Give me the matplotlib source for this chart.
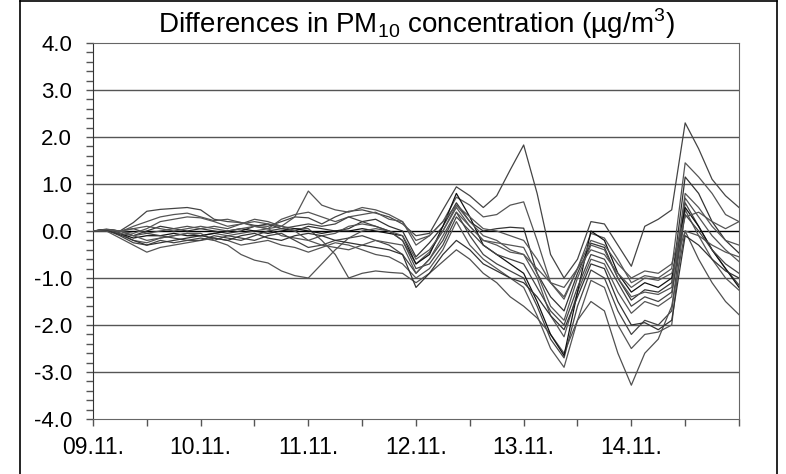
import matplotlib
matplotlib.use("Agg")
import matplotlib.pyplot as plt
from matplotlib.lines import Line2D
from matplotlib.ticker import MultipleLocator, FixedLocator
import numpy as np

plt.rcParams['font.family'] = ['Liberation Sans', 'DejaVu Sans']
plt.rcParams['mathtext.fontset'] = 'custom'
plt.rcParams['mathtext.rm'] = 'Liberation Sans'

# 3-hourly samples starting 09.11. 00:00
hours = np.arange(0, 145, 3)
day_labels = ["09.11.", "10.11.", "11.11.", "12.11.", "13.11.", "14.11."]

run01 = [0, 0.03, 0.0, 0.18, 0.42, 0.46, 0.48, 0.5,
         0.45, 0.25, 0.2, 0.18, 0.12, 0.1, 0.2, 0.3,
         0.28, 0.15, 0.3, 0.42, 0.45, 0.38, 0.3, 0.15,
         -0.1, -0.05, 0.45, 0.94, 0.75, 0.5, 0.75, 1.3,
         1.83, 0.8, -0.5, -1.0, -0.6, 0.2, 0.15, -0.3,
         -0.75, 0.1, 0.25, 0.45, 2.3, 1.75, 1.1, 0.75, 0.5]
run02 = [0, 0.02, -0.02, 0.1, 0.2, 0.3, 0.35, 0.38,
         0.3, 0.22, 0.25, 0.18, 0.1, 0.05, 0.25, 0.35,
         0.4, 0.3, 0.2, 0.3, 0.35, 0.4, 0.25, 0.2,
         -0.3, -0.1, 0.2, 0.72, 0.55, 0.3, 0.35, 0.55,
         0.62, -0.2, -1.1, -1.45, -0.8, -0.05, -0.15, -0.6,
         -1.1, -0.95, -1.0, -0.8, 1.45, 1.15, 0.8, 0.35, 0.2]
run03 = [0, 0.04, 0.0, -0.1, 0.0, 0.1, 0.05, 0.0,
         0.05, 0.0, -0.05, 0.0, 0.1, 0.15, 0.05, 0.0,
         0.1, 0.05, 0.0, 0.05, 0.2, 0.25, 0.1, 0.0,
         -0.55, -0.25, 0.1, 0.6, 0.2, 0.0, 0.05, 0.08,
         0.06, -0.9, -1.4, -1.7, -0.9, -0.26, -0.35, -1.0,
         -1.47, -1.25, -1.3, -1.1, 1.15, 0.8, 0.2, -0.2, -0.47]
run04 = [0, 0.0, -0.05, -0.2, -0.25, -0.15, -0.1, -0.05,
         -0.1, -0.05, -0.1, -0.05, 0.0, 0.05, -0.1, -0.15,
         -0.2, -0.1, -0.05, 0.1, 0.15, 0.1, 0.0, -0.2,
         -0.7, -0.45, 0.0, 0.5, 0.1, -0.2, -0.3, -0.45,
         -0.5, -1.0, -1.8, -2.25, -1.3, -0.6, -0.7, -1.3,
         -1.75, -1.5, -1.6, -1.4, 0.7, 0.3, -0.1, -0.4, -0.65]
run05 = [0, 0.02, -0.1, -0.25, -0.3, -0.2, -0.25, -0.2,
         -0.15, -0.2, -0.1, -0.15, -0.2, -0.1, -0.05, -0.2,
         -0.35, -0.3, -0.2, -0.15, -0.1, -0.2, -0.3, -0.5,
         -0.9, -0.6, -0.2, 0.4, -0.1, -0.5, -0.7, -0.85,
         -1.0, -1.6, -2.3, -2.7, -1.6, -0.83, -1.0, -1.7,
         -2.2, -1.9, -2.0, -1.7, 0.6, 0.1, -0.4, -0.8, -1.15]
run06 = [0, 0.0, -0.15, -0.3, -0.45, -0.35, -0.3, -0.25,
         -0.2, -0.15, -0.2, -0.3, -0.25, -0.2, -0.3, -0.35,
         -0.45, -0.35, -0.25, -0.3, -0.4, -0.5, -0.55, -0.7,
         -1.0, -0.8, -0.4, 0.2, -0.3, -0.6, -0.8, -1.0,
         -1.2, -1.8, -2.5, -2.9, -1.9, -1.05, -1.2, -2.0,
         -2.5, -2.2, -2.15, -2.0, 0.45, -0.1, -0.6, -1.0, -1.26]
run07 = [0, 0.03, 0.0, -0.1, -0.05, 0.0, 0.05, 0.1,
         0.05, 0.1, 0.05, 0.15, 0.25, 0.2, 0.1, 0.05,
         0.05, -0.2, -0.5, -1.0, -0.9, -0.85, -0.88, -0.9,
         -1.1, -0.9, -0.65, -0.4, -0.6, -0.9, -1.1, -1.4,
         -1.6, -1.85, -2.2, -2.6, -1.9, -1.5, -1.7, -2.6,
         -3.28, -2.6, -2.3, -1.6, 0.0, -0.6, -1.1, -1.5, -1.78]
run08 = [0, 0.03, -0.05, -0.15, -0.1, -0.1, -0.05, -0.1,
         -0.1, -0.05, 0.0, 0.05, 0.0, -0.05, 0.0, 0.05,
         0.0, -0.05, 0.0, 0.0, 0.05, 0.0, -0.05, -0.1,
         -0.7, -0.5, 0.1, 0.8, 0.3, -0.3, -0.5, -0.7,
         -0.9, -1.5, -2.2, -2.65, -1.3, 0.0, -0.2, -0.9,
         -1.3, -1.1, -1.2, -1.0, 0.5, 0.1, -0.4, -0.8, -1.2]
run09 = [0, 0.02, -0.05, -0.1, -0.2, -0.15, -0.1, -0.05,
         -0.05, -0.2, -0.3, -0.5, -0.62, -0.68, -0.85, -0.95,
         -1.0, -0.7, -0.4, -0.15, 0.0, 0.05, 0.0, -0.1,
         -0.6, -0.4, 0.0, 0.55, 0.2, -0.1, -0.2, -0.4,
         -0.5, -0.8, -1.1, -1.2, -0.8, -0.4, -0.5, -0.9,
         -1.2, -1.0, -1.05, -0.9, 0.0, -0.1, -0.3, -0.45, -0.55]
run10 = [0, 0.03, 0.0, 0.05, -0.05, -0.1, -0.15, -0.2,
         -0.2, -0.1, -0.15, -0.2, -0.1, 0.0, 0.05, 0.1,
         0.15, 0.1, 0.15, 0.3, 0.2, 0.1, 0.0, -0.2,
         -0.8, -0.7, -0.3, 0.3, 0.0, -0.3, -0.5, -0.6,
         -0.7, -1.2, -1.7, -2.0, -1.2, -0.5, -0.6, -1.1,
         -1.6, -1.4, -1.5, -1.3, 0.35, 0.0, -0.4, -0.7, -0.9]
run11 = [0, 0.02, 0.0, 0.05, 0.1, 0.05, 0.0, 0.05,
         0.1, 0.05, 0.0, 0.05, 0.1, 0.05, 0.1, 0.3,
         0.85, 0.55, 0.45, 0.4, 0.5, 0.45, 0.35, 0.2,
         -0.2, -0.1, 0.2, 0.55, 0.3, 0.05, 0.0, -0.1,
         -0.2, -0.6, -1.1, -1.4, -0.8, -0.2, -0.3, -0.7,
         -1.0, -0.85, -0.9, -0.7, 0.3, 0.4, 0.2, 0.05, 0.2]
run12 = [0, 0.02, -0.08, -0.2, -0.3, -0.25, -0.2, -0.15,
         -0.1, -0.15, -0.2, -0.1, -0.05, -0.15, -0.2, -0.1,
         -0.05, -0.1, -0.2, -0.25, -0.3, -0.35, -0.4, -0.5,
         -1.2, -0.9, -0.5, -0.2, -0.4, -0.7, -0.85, -1.0,
         -1.1, -1.4, -1.8, -2.1, -1.4, -0.7, -0.8, -1.5,
         -2.0, -1.95, -2.1, -1.9, -0.1, -0.3, -0.6, -0.85, -1.0]
run13 = [0, 0.03, 0.0, -0.05, 0.05, 0.2, 0.25, 0.3,
         0.28, 0.2, 0.1, 0.15, 0.2, 0.15, 0.1, 0.0,
         -0.2, -0.3, -0.35, -0.4, -0.3, -0.2, -0.25, -0.3,
         -0.9, -0.6, -0.1, 0.4, 0.1, -0.2, -0.25, -0.3,
         -0.35, -0.9, -1.6, -1.9, -1.0, -0.3, -0.4, -1.0,
         -1.4, -1.3, -1.35, -1.2, 0.8, 0.5, 0.1, -0.2, -0.3]

runs = [run01, run02, run03, run04, run05, run06, run07,
        run08, run09, run10, run11, run12, run13]
line_colors = ["#444444", "#555555", "#333333", "#555555", "#444444", "#555555", "#505050",
               "#111111", "#555555", "#444444", "#555555", "#333333", "#555555"]

fig = plt.figure(figsize=(7.86, 4.74), dpi=100)
ax = fig.add_axes([0.1183, 0.116, 0.8219, 0.7933])

days = hours / 24.0
for vals, col in zip(runs, line_colors):
    ax.plot(days, vals, color=col, lw=0.9, zorder=3)

for yv in range(-3, 4):
    ax.axhline(yv, color="black" if yv == 0 else "#555555", lw=1.0, zorder=2)

ax.set_xlim(0, 6)
ax.set_ylim(-4, 4)
ax.xaxis.set_major_locator(FixedLocator(range(6)))
ax.set_xticklabels(day_labels)
ax.xaxis.set_minor_locator(MultipleLocator(0.5))
ax.yaxis.set_major_locator(MultipleLocator(1.0))
ax.yaxis.set_minor_locator(MultipleLocator(0.2))
ax.yaxis.set_major_formatter(plt.FuncFormatter(lambda v, p: f"{v:.1f}"))

ax.tick_params(axis="x", which="both", direction="out", length=5, width=1,
               color="#555555", labelsize=16.5, pad=7)
ax.tick_params(axis="y", which="both", direction="out", length=5, width=1,
               color="#555555", labelsize=16, pad=10)

for side in ["top", "right", "bottom"]:
    ax.spines[side].set_color("#666666")
ax.spines["left"].set_color("#333333")

ax.set_title("Differences in PM$_{\\mathrm{10}}$ concentration (µg/m$^{\\mathrm{3}}$)",
             fontsize=20, pad=7)

# frame around the figure
for xs, ys in [([20/786, 20/786], [0, 1 - 1/474]),
               ([20/786, 777/786], [1 - 1/474, 1 - 1/474]),
               ([777/786, 777/786], [0, 1 - 1/474])]:
    fig.add_artist(Line2D(xs, ys, color="black", lw=1.2, transform=fig.transFigure))

fig.savefig("out.png", dpi=100)
